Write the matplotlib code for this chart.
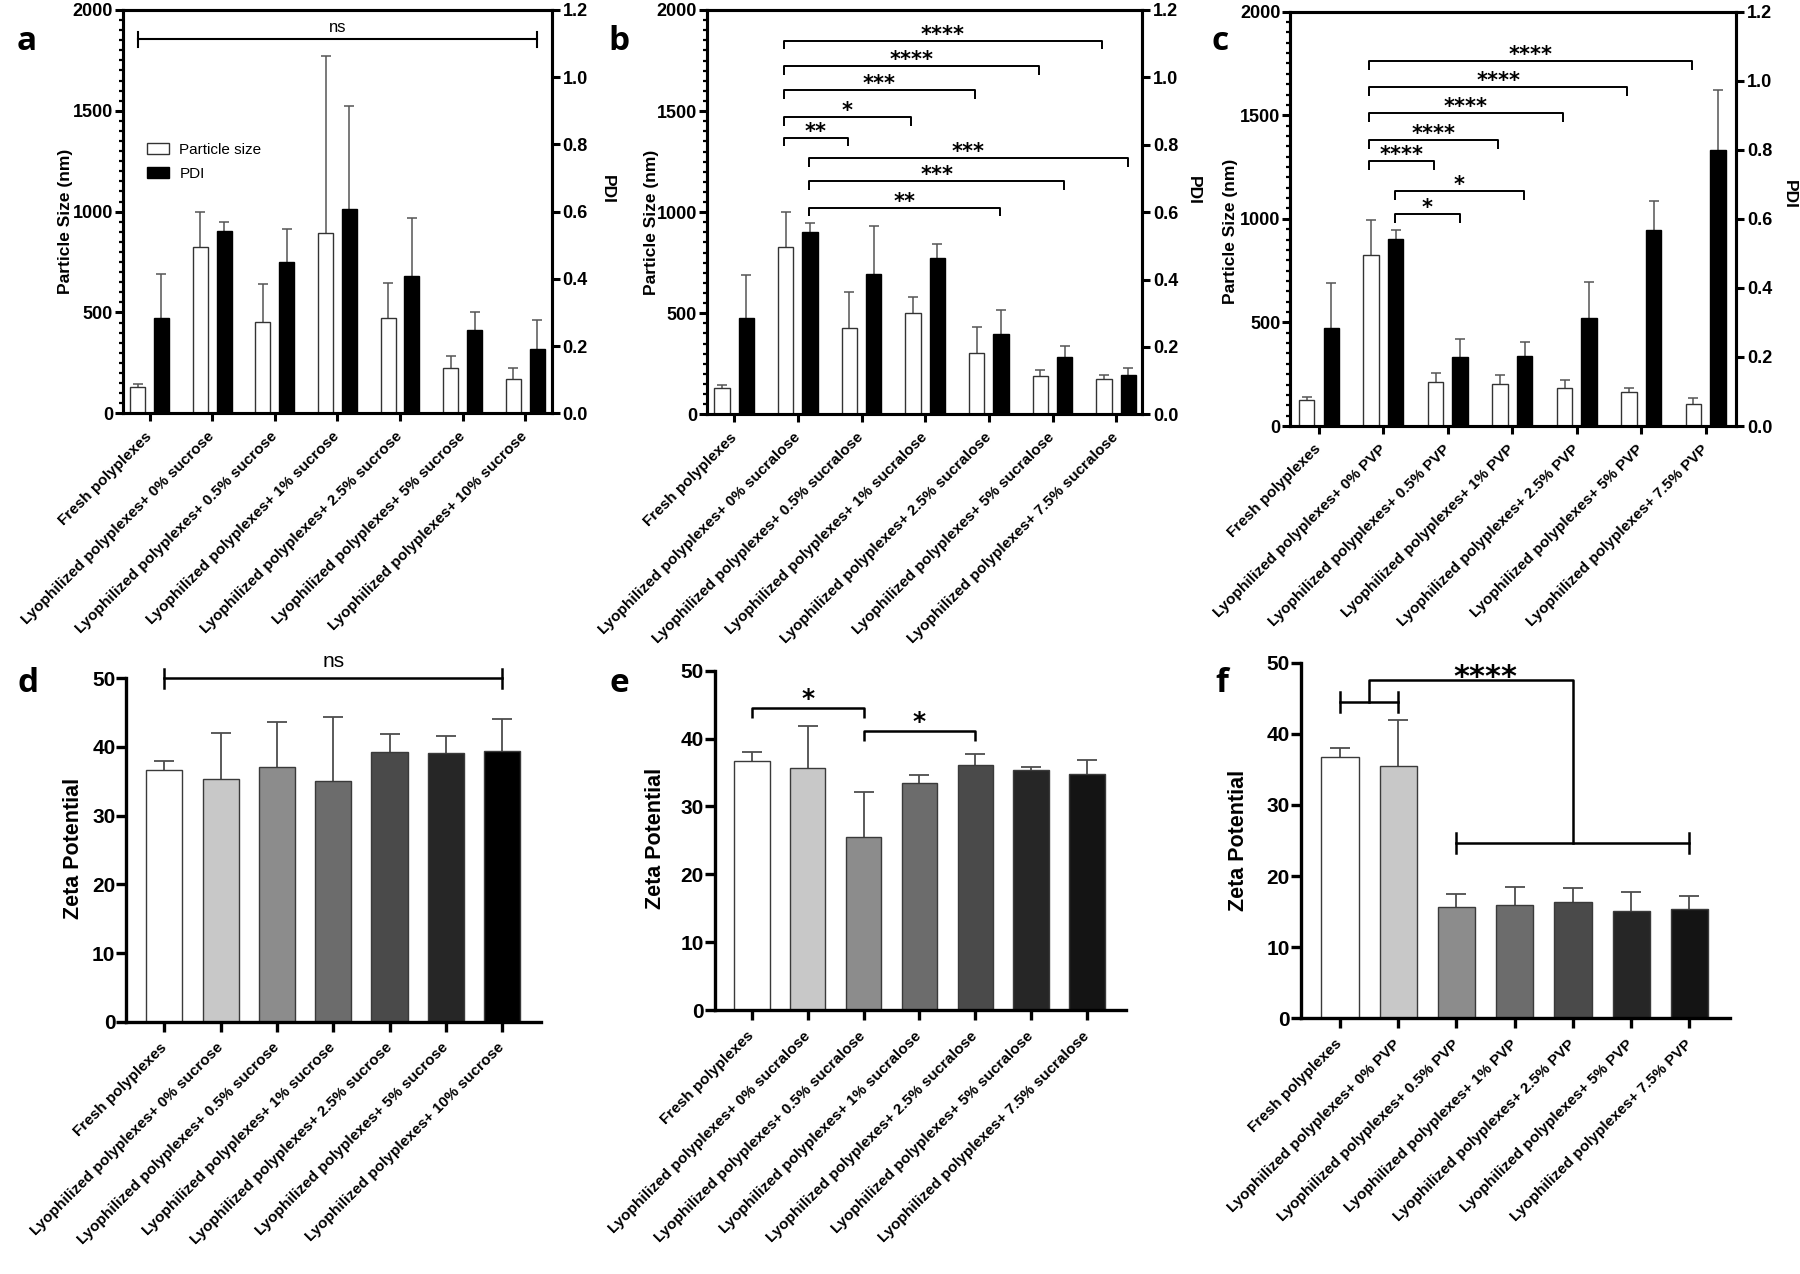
import numpy as np
import matplotlib.pyplot as plt
from matplotlib.patches import Patch
from matplotlib.ticker import MultipleLocator

plt.rcParams['font.family'] = ['Liberation Sans', 'DejaVu Sans']
NARROW = ['Liberation Sans Narrow', 'Liberation Sans', 'DejaVu Sans']
STARS = ['DejaVu Sans']

W, H = 1800, 1274

# ---------------- data ----------------
sucrose_labels = ['Fresh polyplexes',
                  'Lyophilized polyplexes+ 0% sucrose',
                  'Lyophilized polyplexes+ 0.5% sucrose',
                  'Lyophilized polyplexes+ 1% sucrose',
                  'Lyophilized polyplexes+ 2.5% sucrose',
                  'Lyophilized polyplexes+ 5% sucrose',
                  'Lyophilized polyplexes+ 10% sucrose']
sucralose_labels = ['Fresh polyplexes',
                    'Lyophilized polyplexes+ 0% sucralose',
                    'Lyophilized polyplexes+ 0.5% sucralose',
                    'Lyophilized polyplexes+ 1% sucralose',
                    'Lyophilized polyplexes+ 2.5% sucralose',
                    'Lyophilized polyplexes+ 5% sucralose',
                    'Lyophilized polyplexes+ 7.5% sucralose']
pvp_labels = ['Fresh polyplexes',
              'Lyophilized polyplexes+ 0% PVP',
              'Lyophilized polyplexes+ 0.5% PVP',
              'Lyophilized polyplexes+ 1% PVP',
              'Lyophilized polyplexes+ 2.5% PVP',
              'Lyophilized polyplexes+ 5% PVP',
              'Lyophilized polyplexes+ 7.5% PVP']

# panel a - sucrose
size_a = [129, 823, 455, 896, 473, 223, 172]
size_a_sd = [15, 174, 185, 878, 173, 63, 53]
pdi_a = [0.284, 0.541, 0.451, 0.607, 0.408, 0.248, 0.192]
pdi_a_sd = [0.130, 0.027, 0.096, 0.307, 0.174, 0.053, 0.087]

# panel b - sucralose
size_b = [129, 826, 425, 503, 302, 191, 175]
size_b_sd = [16, 173, 178, 79, 132, 28, 21]
pdi_b = [0.286, 0.541, 0.416, 0.463, 0.237, 0.171, 0.118]
pdi_b_sd = [0.127, 0.027, 0.143, 0.041, 0.073, 0.033, 0.019]

# panel c - PVP
size_c = [126, 825, 211, 203, 182, 166, 106]
size_c_sd = [16, 169, 47, 43, 40, 16, 27]
pdi_c = [0.283, 0.541, 0.201, 0.204, 0.314, 0.568, 0.799]
pdi_c_sd = [0.130, 0.027, 0.052, 0.040, 0.103, 0.084, 0.174]

# zeta potential d, e, f
zeta_d = [36.6, 35.4, 37.1, 35.1, 39.25, 39.1, 39.4]
zeta_d_sd = [1.4, 6.6, 6.5, 9.3, 2.65, 2.5, 4.7]
zeta_e = [36.7, 35.6, 25.5, 33.4, 36.1, 35.3, 34.8]
zeta_e_sd = [1.3, 6.2, 6.6, 1.2, 1.6, 0.5, 2.1]
zeta_f = [36.7, 35.5, 15.7, 16.0, 16.3, 15.1, 15.4]
zeta_f_sd = [1.3, 6.5, 1.8, 2.5, 2.0, 2.6, 1.8]

# significance: (group1, group2, series, stars) ; series 'w' = size, 'k' = PDI
sig_b = [(1, 6, 'w', '****'), (1, 5, 'w', '****'), (1, 4, 'w', '***'),
         (1, 3, 'w', '*'), (1, 2, 'w', '**'),
         (1, 6, 'k', '***'), (1, 5, 'k', '***'), (1, 4, 'k', '**')]
sig_b_y = [1848, 1723, 1604, 1471, 1368, 1268, 1154, 1022]
sig_c = [(1, 6, 'w', '****'), (1, 5, 'w', '****'), (1, 4, 'w', '****'),
         (1, 3, 'w', '****'), (1, 2, 'w', '****'),
         (1, 3, 'k', '*'), (1, 2, 'k', '*')]
sig_c_y = [1762, 1635, 1512, 1381, 1279, 1134, 1022]
sig_e = [(0, 2, '*'), (2, 4, '*')]
sig_e_y = [44.5, 41.1]

zeta_colors_d = ['#ffffff', '#c8c8c8', '#8c8c8c', '#6c6c6c', '#4a4a4a', '#262626', '#000000']
zeta_colors = ['#ffffff', '#c8c8c8', '#8c8c8c', '#6c6c6c', '#4a4a4a', '#262626', '#141414']

fig = plt.figure(figsize=(W / 100, H / 100), dpi=100)


def rect_px(l, t, r, b):
    return [l / W, 1 - b / H, (r - l) / W, (b - t) / H]


OFF = 0.19
BW = 0.24


def num_labels(ax, size=13):
    for t in ax.get_yticklabels():
        t.set_fontfamily(NARROW)
        t.set_fontweight('bold')
        t.set_fontsize(size)


def top_panel(rect, labels, size, size_sd, pdi, pdi_sd, xlim, ylab_pos, pdi_pos):
    ax = fig.add_axes(rect)
    ax2 = ax.twinx()
    x = np.arange(len(labels))
    ax.errorbar(x - OFF, size, yerr=size_sd, fmt='none', ecolor='#555555',
                elinewidth=1.1, capsize=3.5, capthick=1.1, zorder=1)
    ax.bar(x - OFF, size, width=BW, color='white', edgecolor='#333333',
           linewidth=1.0, zorder=2)
    ax2.errorbar(x + OFF, pdi, yerr=pdi_sd, fmt='none', ecolor='#555555',
                 elinewidth=1.1, capsize=3.5, capthick=1.1, zorder=1)
    ax2.bar(x + OFF, pdi, width=BW, color='black', edgecolor='black',
            linewidth=1.0, zorder=2)
    ax.set_xlim(*xlim)
    ax.set_ylim(0, 2000)
    ax2.set_ylim(0, 1.2)
    ax.set_yticks([0, 500, 1000, 1500, 2000])
    ax.yaxis.set_minor_locator(MultipleLocator(50))
    ax2.set_yticks([0, 0.2, 0.4, 0.6, 0.8, 1.0, 1.2])
    ax2.set_yticklabels(['0.0', '0.2', '0.4', '0.6', '0.8', '1.0', '1.2'])
    ax.set_xticks(x)
    ax.set_xticklabels(labels, rotation=45, ha='right', va='center',
                       rotation_mode='anchor', fontsize=11, fontweight='bold')
    for a in (ax, ax2):
        for s in a.spines.values():
            s.set_linewidth(2.2)
    ax.tick_params(axis='y', which='major', direction='out', length=6, width=2.2, pad=1)
    ax.tick_params(axis='y', which='minor', direction='out', length=3, width=1.6)
    ax.tick_params(axis='x', direction='out', length=6, width=2.2, pad=9)
    ax2.tick_params(axis='y', direction='out', length=6, width=2.2, pad=2)
    num_labels(ax)
    num_labels(ax2)
    ax.set_ylabel('Particle Size (nm)', fontsize=12.5, fontweight='bold', va='center')
    ax.yaxis.set_label_coords(*ylab_pos)
    ax2.set_ylabel('PDI', fontsize=12.5, fontweight='bold', rotation=270, va='center')
    ax2.yaxis.set_label_coords(*pdi_pos)
    return ax, ax2


def bottom_panel(rect, labels, vals, sd, colors, xlim, ylab_pos):
    ax = fig.add_axes(rect)
    x = np.arange(len(labels))
    ax.errorbar(x, vals, yerr=sd, fmt='none', ecolor='#4d4d4d',
                elinewidth=1.3, capsize=7, capthick=1.3, zorder=1)
    ax.bar(x, vals, width=0.64, color=colors, edgecolor='#3a3a3a',
           linewidth=1.0, zorder=2)
    ax.set_xlim(*xlim)
    ax.set_ylim(0, 50)
    ax.set_yticks([0, 10, 20, 30, 40, 50])
    ax.set_xticks(x)
    ax.set_xticklabels(labels, rotation=45, ha='right', va='center',
                       rotation_mode='anchor', fontsize=11, fontweight='bold')
    ax.spines['top'].set_visible(False)
    ax.spines['right'].set_visible(False)
    for s in ('left', 'bottom'):
        ax.spines[s].set_linewidth(2.4)
    ax.tick_params(axis='y', direction='out', length=7, width=2.4, pad=1)
    ax.tick_params(axis='x', direction='out', length=7, width=2.4, pad=10)
    num_labels(ax, 15)
    ax.set_ylabel('Zeta Potential', fontsize=15.5, fontweight='bold', va='center')
    ax.yaxis.set_label_coords(*ylab_pos)
    return ax


def bracket(ax, x1, x2, y, leg, text, fs, dy=0.0, lw=1.4):
    ax.plot([x1, x1, x2, x2], [y - leg, y, y, y - leg], color='black',
            lw=lw, clip_on=False, zorder=5, solid_capstyle='butt')
    ax.text((x1 + x2) / 2, y + dy, text, ha='center', va='baseline',
            fontsize=fs, fontweight='bold', family=STARS)


def ibeam(ax, x1, x2, y, cap, lw=1.6):
    ax.plot([x1, x2], [y, y], color='black', lw=lw, clip_on=False, zorder=5)
    ax.plot([x1, x1], [y - cap, y + cap], color='black', lw=lw, clip_on=False, zorder=5)
    ax.plot([x2, x2], [y - cap, y + cap], color='black', lw=lw, clip_on=False, zorder=5)


# ---------------- top row ----------------
ax_a, ax_a2 = top_panel(rect_px(122.6, 10, 551.6, 413.3), sucrose_labels,
                        size_a, size_a_sd, pdi_a, pdi_a_sd, (-0.43, 6.42),
                        (-0.134, 0.475), (1.129, 0.554))
ax_b, ax_b2 = top_panel(rect_px(706.8, 10, 1141.7, 414.3), sucralose_labels,
                        size_b, size_b_sd, pdi_b, pdi_b_sd, (-0.43, 6.40),
                        (-0.127, 0.475), (1.118, 0.553))
ax_c, ax_c2 = top_panel(rect_px(1290, 11.7, 1736, 426), pvp_labels,
                        size_c, size_c_sd, pdi_c, pdi_c_sd, (-0.45, 6.47),
                        (-0.133, 0.47), (1.119, 0.558))

# legend in a
handles = [Patch(facecolor='white', edgecolor='#333333', linewidth=1.0, label='Particle size'),
           Patch(facecolor='black', edgecolor='black', label='PDI')]
ax_a.legend(handles=handles, loc='upper left', bbox_to_anchor=(0.04, 0.69),
            frameon=False, handlelength=1.4, handleheight=0.75,
            handletextpad=0.7, labelspacing=0.65, borderpad=0,
            prop={'family': NARROW, 'size': 11})

# ns in a
ibeam(ax_a, -OFF, 6 + OFF, 1855, 37, lw=1.5)
ax_a.text(3, 1893, 'ns', ha='center', va='baseline', fontsize=12, family=NARROW)

# brackets b and c
WOFF, KOFF = -0.22, 0.18
for (g1, g2, s, txt), y in zip(sig_b, sig_b_y):
    o = WOFF if s == 'w' else KOFF
    bracket(ax_b, g1 + o, g2 + o, y, 43, txt, 15)
for (g1, g2, s, txt), y in zip(sig_c, sig_c_y):
    o = WOFF if s == 'w' else KOFF
    bracket(ax_c, g1 + o, g2 + o, y, 43, txt, 15)

# ---------------- bottom row ----------------
ax_d = bottom_panel(rect_px(126.5, 678.3, 541, 1021.7), sucrose_labels, zeta_d,
                    zeta_d_sd, zeta_colors_d, (-0.67, 6.69), (-0.129, 0.505))
ax_e = bottom_panel(rect_px(714.7, 670.7, 1125.9, 1010), sucralose_labels, zeta_e,
                    zeta_e_sd, zeta_colors, (-0.66, 6.69), (-0.144, 0.506))
ax_f = bottom_panel(rect_px(1301, 662.7, 1729.6, 1018.3), pvp_labels, zeta_f,
                    zeta_f_sd, zeta_colors, (-0.67, 6.69), (-0.146, 0.501))

# d: ns
ibeam(ax_d, 0, 6, 50.0, 1.4, lw=1.8)
ax_d.text(3, 51.6, 'ns', ha='center', va='baseline', fontsize=15, family=NARROW)

# e: stars
for (g1, g2, txt), y in zip(sig_e, sig_e_y):
    bracket(ax_e, g1, g2, y, 1.5, txt, 18, dy=0.3, lw=1.8)

# f: grouped bracket
ibeam(ax_f, 0, 1, 44.5, 1.4, lw=1.8)
ibeam(ax_f, 2, 6, 24.7, 1.4, lw=1.8)
ax_f.plot([0.5, 0.5, 4, 4], [44.5, 47.55, 47.55, 24.7], color='black', lw=1.8,
          clip_on=False, zorder=5)
ax_f.text(2.5, 46.7, '****', ha='center', va='baseline', fontsize=22,
          fontweight='bold', family=STARS)

# panel letters
for letter, xp, yp in [('a', 26.7, 50), ('b', 619, 50), ('c', 1220, 50),
                       ('d', 27.7, 692), ('e', 619.8, 692), ('f', 1222, 692)]:
    fig.text(xp / W, 1 - yp / H, letter, ha='center', va='baseline',
             fontsize=24, fontweight='bold', family=['Open Sans', 'DejaVu Sans'])

fig.savefig('out.png', dpi=100)
